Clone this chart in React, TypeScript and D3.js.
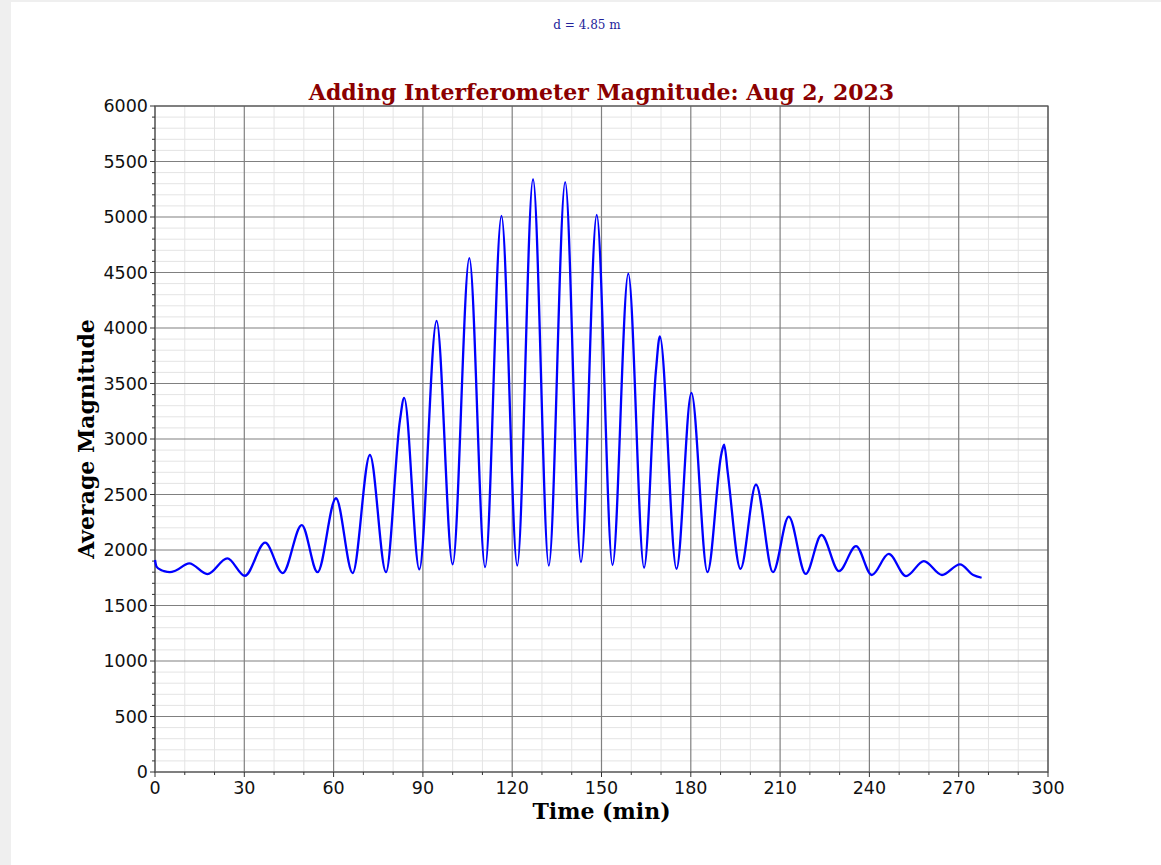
import { useEffect, useRef } from 'react';
import * as d3 from 'd3';

// values (peaks, troughs and a few shoulders)
const timeMin = [
  0, 0.5, 2, 3, 5, 7, 11.5, 17.6, 24.3, 30.2, 37.0, 42.9, 49.3, 54.6, 60.8, 66.4,
  72.2, 77.6, 82.3, 83.7, 88.8, 94.6, 100.0, 105.6, 110.9, 116.4, 121.7, 127.0,
  132.3, 137.8, 143.1, 148.4, 153.7, 159.0, 164.3, 168.3, 169.6, 175.2, 180.2,
  185.6, 190.3, 191.2, 192.4, 196.7, 201.9, 207.6, 212.9, 218.6, 223.9, 229.8,
  235.5, 240.8, 246.5, 252.3, 258.3, 264.4, 270.4, 274.9, 277.7,
];
const magnitude = [
  1910, 1850, 1820, 1810, 1800, 1815, 1880, 1783, 1925, 1768, 2066, 1792, 2225, 1800, 2466, 1792,
  2856, 1800, 3170, 3370, 1825, 4065, 1870, 4630, 1845, 5010, 1860, 5340,
  1860, 5315, 1890, 5020, 1865, 4490, 1840, 3620, 3925, 1830, 3415,
  1800, 2870, 2950, 2700, 1830, 2590, 1800, 2300, 1785, 2135, 1810,
  2035, 1775, 1965, 1765, 1900, 1775, 1870, 1775, 1750,
];
const xTicks = [0, 30, 60, 90, 120, 150, 180, 210, 240, 270, 300];
const yTicks = [0, 500, 1000, 1500, 2000, 2500, 3000, 3500, 4000, 4500, 5000, 5500, 6000];

const W = 1161;
const H = 865;

export default function App() {
  const svgRef = useRef<SVGSVGElement | null>(null);

  useEffect(() => {
    const svg = d3.select(svgRef.current);
    svg.selectAll('*').remove();

    svg.append('rect').attr('width', W).attr('height', H).attr('fill', '#efefef');
    svg.append('rect').attr('x', 11).attr('y', 2).attr('width', W - 11).attr('height', H - 2).attr('fill', '#fff');

    const x = d3.scaleLinear().domain([0, 300]).range([155, 1048]);
    const y = d3.scaleLinear().domain([0, 6000]).range([772, 106]);

    const g = svg.append('g');

    // minor grid
    const xMinor = d3.range(0, 301, 10).filter(v => v % 30 !== 0);
    const yMinor = d3.range(0, 6001, 100).filter(v => v % 500 !== 0);
    g.selectAll('.vminor').data(xMinor).enter().append('line')
      .attr('x1', d => x(d)).attr('x2', d => x(d)).attr('y1', y(0)).attr('y2', y(6000))
      .attr('stroke', '#e4e4e4').attr('stroke-width', 1);
    g.selectAll('.hminor').data(yMinor).enter().append('line')
      .attr('y1', d => y(d)).attr('y2', d => y(d)).attr('x1', x(0)).attr('x2', x(300))
      .attr('stroke', '#e4e4e4').attr('stroke-width', 1);

    // major grid
    g.selectAll('.vmajor').data(xTicks).enter().append('line')
      .attr('x1', d => x(d)).attr('x2', d => x(d)).attr('y1', y(0)).attr('y2', y(6000))
      .attr('stroke', '#808080').attr('stroke-width', 1.2);
    g.selectAll('.hmajor').data(yTicks).enter().append('line')
      .attr('y1', d => y(d)).attr('y2', d => y(d)).attr('x1', x(0)).attr('x2', x(300))
      .attr('stroke', '#808080').attr('stroke-width', 1.2);

    // frame
    g.append('rect')
      .attr('x', x(0)).attr('y', y(6000)).attr('width', x(300) - x(0)).attr('height', y(0) - y(6000))
      .attr('fill', 'none').attr('stroke', '#555').attr('stroke-width', 1.2);

    // ticks
    g.selectAll('.ytick').data(yTicks).enter().append('line')
      .attr('x1', x(0) - 5).attr('x2', x(0)).attr('y1', d => y(d)).attr('y2', d => y(d))
      .attr('stroke', '#333').attr('stroke-width', 1);
    g.selectAll('.ytickm').data(yMinor).enter().append('line')
      .attr('x1', x(0) - 3).attr('x2', x(0)).attr('y1', d => y(d)).attr('y2', d => y(d))
      .attr('stroke', '#333').attr('stroke-width', 1);
    g.selectAll('.xtick').data(xTicks).enter().append('line')
      .attr('y1', y(0)).attr('y2', y(0) + 5).attr('x1', d => x(d)).attr('x2', d => x(d))
      .attr('stroke', '#333').attr('stroke-width', 1);
    g.selectAll('.xtickm').data(xMinor).enter().append('line')
      .attr('y1', y(0)).attr('y2', y(0) + 3).attr('x1', d => x(d)).attr('x2', d => x(d))
      .attr('stroke', '#333').attr('stroke-width', 1);

    // tick labels
    g.selectAll('.ylab').data(yTicks).enter().append('text')
      .attr('x', x(0) - 7).attr('y', d => y(d)).attr('dy', '0.36em')
      .attr('text-anchor', 'end').attr('font-family', 'DejaVu Sans').attr('font-size', 17.5)
      .attr('fill', '#111').text(d => d);
    g.selectAll('.xlab').data(xTicks).enter().append('text')
      .attr('x', d => x(d)).attr('y', y(0) + 22)
      .attr('text-anchor', 'middle').attr('font-family', 'DejaVu Sans').attr('font-size', 17.5)
      .attr('fill', '#111').text(d => d);

    // data line
    const pts: [number, number][] = timeMin.map((t, i) => [t, magnitude[i]]);
    const line = d3.line<[number, number]>()
      .x(d => x(d[0])).y(d => y(d[1]))
      .curve(d3.curveMonotoneX);
    g.append('path').attr('d', line(pts) || '')
      .attr('fill', 'none').attr('stroke', '#0000ff').attr('stroke-width', 2.3);

    // titles
    svg.append('text').attr('x', 587).attr('y', 29).attr('text-anchor', 'middle')
      .attr('font-family', 'DejaVu Serif').attr('font-size', 12).attr('fill', '#22229a')
      .text('d = 4.85 m');
    svg.append('text').attr('x', 601.5).attr('y', 100).attr('text-anchor', 'middle')
      .attr('font-family', 'DejaVu Serif').attr('font-weight', 'bold').attr('font-size', 22)
      .attr('fill', '#8b0000').text('Adding Interferometer Magnitude: Aug 2, 2023');
    svg.append('text').attr('x', 601.5).attr('y', 819).attr('text-anchor', 'middle')
      .attr('font-family', 'DejaVu Serif').attr('font-weight', 'bold').attr('font-size', 22)
      .attr('fill', '#000').text('Time (min)');
    svg.append('text').attr('transform', `translate(94,439) rotate(-90)`).attr('text-anchor', 'middle')
      .attr('font-family', 'DejaVu Serif').attr('font-weight', 'bold').attr('font-size', 22)
      .attr('fill', '#000').text('Average Magnitude');
  }, []);

  return (
    <svg ref={svgRef} width={W} height={H}
      style={{ position: 'absolute', left: 0, top: 0, display: 'block' }} />
  );
}
